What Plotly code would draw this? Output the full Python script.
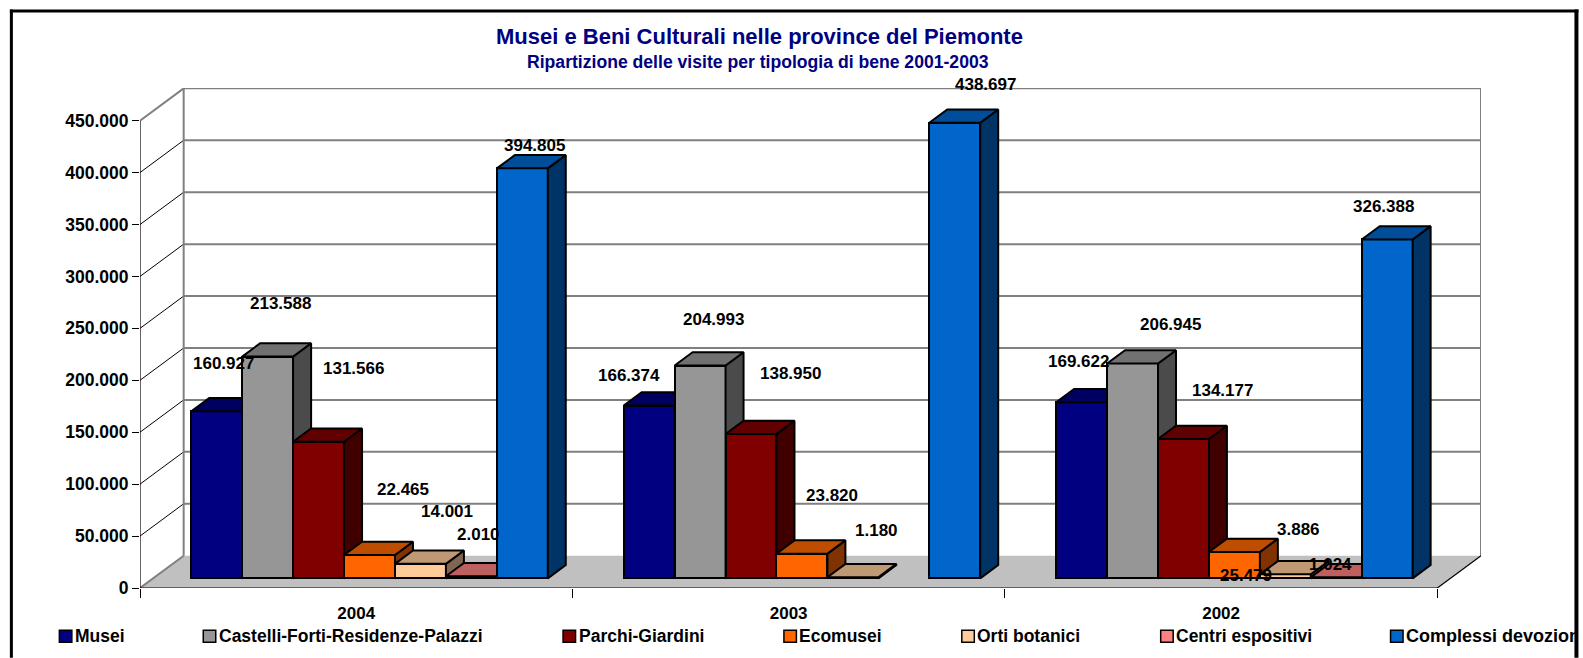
import plotly.graph_objects as go

# ---------- data ----------
categories = ["2004", "2003", "2002"]
series_names = ["Musei", "Castelli-Forti-Residenze-Palazzi", "Parchi-Giardini", "Ecomusei",
                "Orti botanici", "Centri espositivi", "Complessi devozionali"]
musei = [160927, 166374, 169622]
castelli = [213588, 204993, 206945]
parchi = [131566, 138950, 134177]
ecomusei = [22465, 23820, 25479]
orti = [14001, 1180, 3886]
centri = [2010, None, 1024]
complessi = [394805, 438697, 326388]
series_values = [musei, castelli, parchi, ecomusei, orti, centri, complessi]
title_text = "Musei e Beni Culturali nelle province del Piemonte"
subtitle_text = "Ripartizione delle visite per tipologia di bene 2001-2003"

# ---------- styles ----------
front_colors = ["#000080", "#969696", "#800000", "#FF6600", "#FFCC99", "#FF8080", "#0066CC"]
top_colors = ["#000060", "#717171", "#600000", "#BF4D00", "#BF9973", "#BF6060", "#004D99"]
side_colors = ["#000040", "#4B4B4B", "#400000", "#803300", "#806650", "#804040", "#003366"]
FONT = "Liberation Sans"
NAVY = "#000080"

# ---------- geometry (pixels of the 1583x658 page) ----------
W, H = 1583, 658
PL, PR, PT, PB = 139.7, 1481.5, 88.0, 588.3
CAT_PX = 432.7
PX_PER_VALUE = 51.96 / 50000
BAR_PX = 50.96
WALL_DX, WALL_DY = PR - (PL + 3 * CAT_PX), PB - 556.0
GAP_DX, GAP_DY = 13.3, 9.6
BAR_DX, BAR_DY = 18.0, 13.3


def ux(px):
    return px / CAT_PX


def uy(px):
    return px / PX_PER_VALUE


def px_x(p):
    return (p - PL) / (PR - PL)


def px_y(p):
    return (PB - p) / (PB - PT)


x_max = ux(PR - PL)
y_max = uy(PB - PT)
base_val = uy(GAP_DY)
bw = ux(BAR_PX)

fig = go.Figure()

# floor
fig.add_trace(go.Scatter(
    x=[0, 3, 3 + ux(WALL_DX), ux(WALL_DX), 0],
    y=[0, 0, uy(WALL_DY), uy(WALL_DY), 0],
    mode="lines", fill="toself", fillcolor="#C0C0C0", line=dict(width=0),
    showlegend=False, hoverinfo="skip", cliponaxis=False))

# back wall and side wall grid
tick_values = list(range(0, 450001, 50000))
for v in tick_values:
    back_y = v + uy(WALL_DY)
    if v > 0:
        fig.add_trace(go.Scatter(
            x=[ux(WALL_DX), 3 + ux(WALL_DX)], y=[back_y, back_y], mode="lines",
            line=dict(color="#808080", width=2), showlegend=False, hoverinfo="skip", cliponaxis=False))
    fig.add_trace(go.Scatter(
        x=[0, ux(WALL_DX)], y=[v, back_y], mode="lines",
        line=dict(color="#808080" if v in (0, 450000) else "#000000", width=2 if v in (0, 450000) else 1),
        showlegend=False, hoverinfo="skip", cliponaxis=False))
top_back = 450000 + uy(WALL_DY)
for xb in (ux(WALL_DX), 3 + ux(WALL_DX)):
    fig.add_trace(go.Scatter(x=[xb, xb], y=[uy(WALL_DY), top_back], mode="lines",
                             line=dict(color="#808080", width=2), showlegend=False,
                             hoverinfo="skip", cliponaxis=False))
# front axis lines
fig.add_trace(go.Scatter(x=[0, 0, 3, 3 + ux(WALL_DX)], y=[450000, 0, 0, uy(WALL_DY)], mode="lines",
                         line=dict(color="#000000", width=1.2), showlegend=False,
                         hoverinfo="skip", cliponaxis=False))

# bars, one overlaying axis pair per series so later series paint over earlier ones
n = len(series_values)
for i, vals in enumerate(series_values):
    ax = i + 2
    xa, ya = f"x{ax}", f"y{ax}"
    xs = [c + 0.5 + ux(GAP_DX) + (i - (n - 1) / 2) * bw for c in range(len(categories))]
    side_x, side_y, top_x, top_y = [], [], [], []
    for xc, v in zip(xs, vals):
        if v is None:
            continue
        xl, xr = xc - bw / 2, xc + bw / 2
        t, b = base_val + v, base_val
        dxb, dyb = ux(BAR_DX), uy(BAR_DY)
        side_x += [xr, xr + dxb, xr + dxb, xr, xr, None]
        side_y += [t, t + dyb, b + dyb, b, t, None]
        top_x += [xl, xl + dxb, xr + dxb, xr, xl, None]
        top_y += [t, t + dyb, t + dyb, t, t, None]
    fig.add_trace(go.Bar(x=xs, y=vals, base=base_val, width=bw, name=series_names[i],
                         marker=dict(color=front_colors[i], line=dict(color="#000000", width=2)),
                         xaxis=xa, yaxis=ya, showlegend=False, cliponaxis=False))
    fig.add_trace(go.Scatter(x=side_x, y=side_y, mode="lines", fill="toself", fillcolor=side_colors[i],
                             line=dict(color="#000000", width=2), xaxis=xa, yaxis=ya,
                             showlegend=False, hoverinfo="skip", cliponaxis=False))
    fig.add_trace(go.Scatter(x=top_x, y=top_y, mode="lines", fill="toself", fillcolor=top_colors[i],
                             line=dict(color="#000000", width=2), xaxis=xa, yaxis=ya,
                             showlegend=False, hoverinfo="skip", cliponaxis=False))

# ---------- data-label placement (centres, page pixels) ----------
label_centres = [
    [(223, 364), (280, 304), (353, 369), (403, 490), (447, 512), (478, 535), (534, 146)],
    [(629, 376), (714, 320), (791, 374), (832, 496), (877, 531), None, (986, 84)],
    [(1079, 362), (1171, 325), (1223, 391), (1246, 576), (1299, 530), (1331, 565), (1384, 207)],
]
annotations = []
for c, row in enumerate(label_centres):
    for i, pos in enumerate(row):
        if pos is None:
            continue
        annotations.append(dict(
            x=px_x(pos[0]), y=px_y(pos[1]), xref="paper", yref="paper", showarrow=False,
            text=f"{series_values[i][c]:,}".replace(",", "."),
            xanchor="center", yanchor="middle",
            font=dict(family=FONT, size=17, color="#000000", weight="bold")))

annotations.append(dict(x=px_x(760), y=px_y(36.5), xref="paper", yref="paper", showarrow=False,
                        text=title_text, xanchor="center", yanchor="middle",
                        font=dict(family=FONT, size=22, color=NAVY, weight="bold")))
annotations.append(dict(x=px_x(758), y=px_y(61.5), xref="paper", yref="paper", showarrow=False,
                        text=subtitle_text, xanchor="center", yanchor="middle",
                        font=dict(family=FONT, size=17.6, color=NAVY, weight="bold")))

# ---------- legend keys and frame ----------
legend_left = [59, 203, 563, 784, 962, 1161, 1391]
LEG_Y = 636.7
FRAME_RIGHT = 1575
shapes = []
for i, name in enumerate(series_names):
    lx = legend_left[i]
    shapes.append(dict(type="rect", xref="paper", yref="paper",
                       x0=px_x(lx), x1=px_x(lx + 12.5), y0=px_y(LEG_Y + 6), y1=px_y(LEG_Y - 6),
                       fillcolor=front_colors[i], line=dict(color="#000000", width=1.5)))
    ann = dict(x=px_x(lx + 13.5), y=px_y(LEG_Y), xref="paper", yref="paper", showarrow=False,
               text=name, xanchor="left", yanchor="middle", align="left",
               font=dict(family=FONT, size=18 if i == n - 1 else 17.5, color="#000000", weight="bold"))
    if i == n - 1:
        ann["width"] = FRAME_RIGHT - (lx + 13.5)
    annotations.append(ann)
# frame: top, left and right rules run off the picture's lower edge
frame_bars = [(9.5, 9.5, 1579, 12.5), (9.5, 9.5, 12.5, 658), (FRAME_RIGHT, 9.5, 1579, 658)]
for x0, y0, x1, y1 in frame_bars:
    shapes.append(dict(type="rect", xref="paper", yref="paper", layer="above",
                       x0=px_x(x0), x1=px_x(x1), y0=px_y(y1), y1=px_y(y0),
                       fillcolor="#000000", line=dict(width=0)))

layout = dict(
    width=W, height=H, autosize=False,
    margin=dict(l=PL, r=W - PR, t=PT, b=H - PB, pad=0),
    paper_bgcolor="#FFFFFF", plot_bgcolor="rgba(0,0,0,0)",
    separators=",.", bargap=0, showlegend=False,
    font=dict(family=FONT, color="#000000"),
    xaxis=dict(range=[0, x_max], tickmode="array", tickvals=[0.5, 1.5, 2.5], ticktext=categories,
               ticks="", showgrid=False, zeroline=False, showline=False, ticklabelstandoff=13,
               tickfont=dict(family=FONT, size=17, color="#000000", weight="bold"),
               minor=dict(tickmode="array", tickvals=[0, 1, 2, 3], ticks="outside", ticklen=9,
                          tickwidth=1.2, tickcolor="#000000", showgrid=False)),
    yaxis=dict(range=[0, y_max], tickmode="array", tickvals=tick_values, tickformat=",d",
               ticks="outside", ticklen=7, tickwidth=1.2, tickcolor="#000000",
               showgrid=False, zeroline=False, showline=False,
               tickfont=dict(family=FONT, size=17.5, color="#000000", weight="bold")),
    annotations=annotations, shapes=shapes,
)
for i in range(n):
    ax = i + 2
    layout[f"xaxis{ax}"] = dict(range=[0, x_max], overlaying="x", visible=False, anchor=f"y{ax}")
    layout[f"yaxis{ax}"] = dict(range=[0, y_max], overlaying="y", visible=False, anchor=f"x{ax}")
fig.update_layout(**layout)

fig.write_html("out.html", config={"displayModeBar": False},
               post_script="document.body.style.margin='0';document.body.style.overflow='hidden';")
